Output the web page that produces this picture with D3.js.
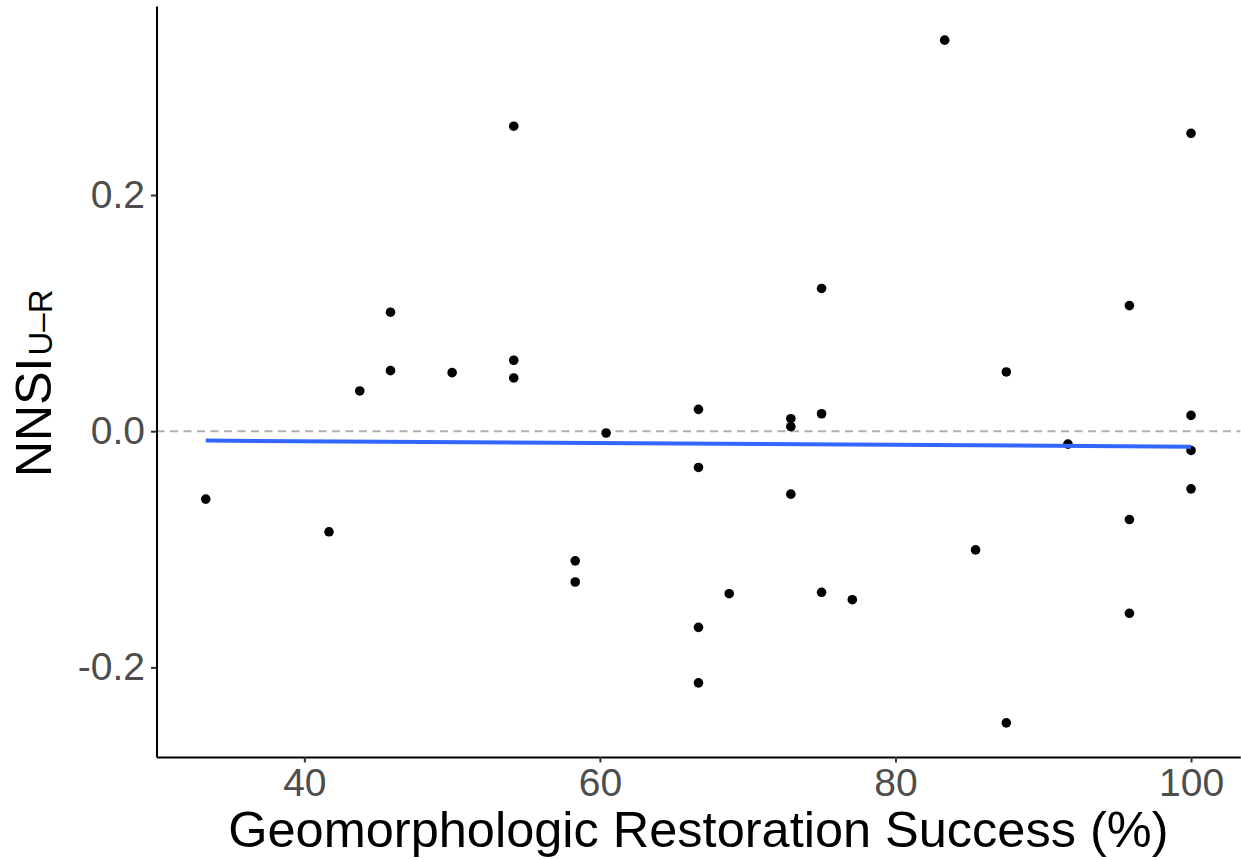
<!DOCTYPE html>
<html>
<head>
<meta charset="utf-8">
<script src="https://cdn.jsdelivr.net/npm/d3@7"></script>
<style>
  html, body { margin: 0; padding: 0; background: #ffffff; }
  svg { display: block; font-family: "Liberation Sans", Arial, Helvetica, sans-serif; }
</style>
</head>
<body>
<svg id="chart" width="1241" height="860"></svg>
<script>
// Restoration success (%) per site
const success = [
  33.33, 41.67, 43.75, 45.83, 45.83, 50.00, 54.17, 54.17, 54.17,
  58.33, 58.33, 60.42, 66.67, 66.67, 66.67, 66.67, 68.75, 72.92,
  72.92, 72.92, 75.00, 75.00, 75.00, 77.08, 83.33, 85.42, 87.50,
  87.50, 91.67, 95.83, 95.83, 95.83, 100.00, 100.00, 100.00, 100.00
];
// NNSI (U–R) per site
const nnsi = [
  -0.0575, -0.0852, 0.0341, 0.1008, 0.0513, 0.0496, 0.2583, 0.0601, 0.0451,
  -0.1098, -0.1277, -0.0015, 0.0185, -0.0307, -0.1661, -0.2131, -0.1376, 0.0106,
  0.0038, -0.0533, 0.1209, 0.0148, -0.1364, -0.1427, 0.3312, -0.1005, 0.0502,
  -0.2470, -0.0109, 0.1064, -0.0748, -0.1542, 0.2523, 0.0134, -0.0163, -0.0488
];

const xTicks = [40, 60, 80, 100];
const xTickLabels = ["40", "60", "80", "100"];
const yTicks = [-0.2, 0.0, 0.2];
const yTickLabels = ["-0.2", "0.0", "0.2"];

const xTitle = "Geomorphologic Restoration Success (%)";
const yTitleMain = "NNSI";
const yTitleSub = "U\u2013R";

const svg = d3.select("#chart");
const panel = { left: 156.5, right: 1240.3, top: 6, bottom: 757 };

// Continuous scales with 5% padding on each side of the data range
function padded(ext) {
  const span = ext[1] - ext[0];
  return [ext[0] - span * 0.05, ext[1] + span * 0.05];
}
const x = d3.scaleLinear().domain(padded(d3.extent(success))).range([panel.left, panel.right]);
const y = d3.scaleLinear().domain(padded(d3.extent(nnsi))).range([panel.bottom, panel.top]);

const pts = success.map((s, i) => ({ x: s, y: nnsi[i] }));

// Least squares fit
const mx = d3.mean(success), my = d3.mean(nnsi);
let sxy = 0, sxx = 0;
pts.forEach(p => { sxy += (p.x - mx) * (p.y - my); sxx += (p.x - mx) ** 2; });
const slope = sxy / sxx;
const intercept = my - slope * mx;
const fit = d3.extent(success).map(v => ({ x: v, y: intercept + slope * v }));

// Reference line at zero
svg.append("line")
  .attr("x1", panel.left).attr("x2", panel.right)
  .attr("y1", y(0)).attr("y2", y(0))
  .attr("stroke", "#b0b0b0")
  .attr("stroke-width", 2)
  .attr("stroke-dasharray", "8,5.5");

// Points
svg.append("g").selectAll("circle").data(pts).join("circle")
  .attr("cx", d => x(d.x))
  .attr("cy", d => y(d.y))
  .attr("r", 4.8)
  .attr("fill", "#000000");

// Fitted line
svg.append("path")
  .datum(fit)
  .attr("fill", "none")
  .attr("stroke", "#3366FF")
  .attr("stroke-width", 4)
  .attr("d", d3.line().x(d => x(d.x)).y(d => y(d.y)));

// Axes
const xAxis = d3.axisBottom(x)
  .tickValues(xTicks)
  .tickFormat((d, i) => xTickLabels[i])
  .tickSizeInner(5.5).tickSizeOuter(0).tickPadding(5.5);
const yAxis = d3.axisLeft(y)
  .tickValues(yTicks)
  .tickFormat((d, i) => yTickLabels[i])
  .tickSizeInner(5.5).tickSizeOuter(0).tickPadding(6);

const gx = svg.append("g").attr("transform", `translate(0,${panel.bottom})`).call(xAxis);
const gy = svg.append("g").attr("transform", `translate(${panel.left},0)`).call(yAxis);

[gx, gy].forEach(g => {
  g.select(".domain").attr("stroke", "#000000").attr("stroke-width", 2);
  g.selectAll(".tick line").attr("stroke", "#333333").attr("stroke-width", 2);
  g.selectAll(".tick text")
    .attr("fill", "#4d4d4d")
    .style("font-size", "39px")
    .style("font-family", "'Liberation Sans', Arial, sans-serif");
});

// Axis titles
svg.append("text")
  .attr("x", (panel.left + panel.right) / 2)
  .attr("y", 847)
  .attr("text-anchor", "middle")
  .attr("fill", "#000000")
  .style("font-size", "50.5px")
  .text(xTitle);

const yt = svg.append("text")
  .attr("transform", "translate(50.5,477) rotate(-90)")
  .attr("text-anchor", "start")
  .attr("fill", "#000000")
  .style("font-size", "50px");
yt.append("tspan").text(yTitleMain);
yt.append("tspan")
  .attr("dy", 1)
  .attr("dx", 2)
  .style("font-size", "33px")
  .text(yTitleSub);
</script>
</body>
</html>
